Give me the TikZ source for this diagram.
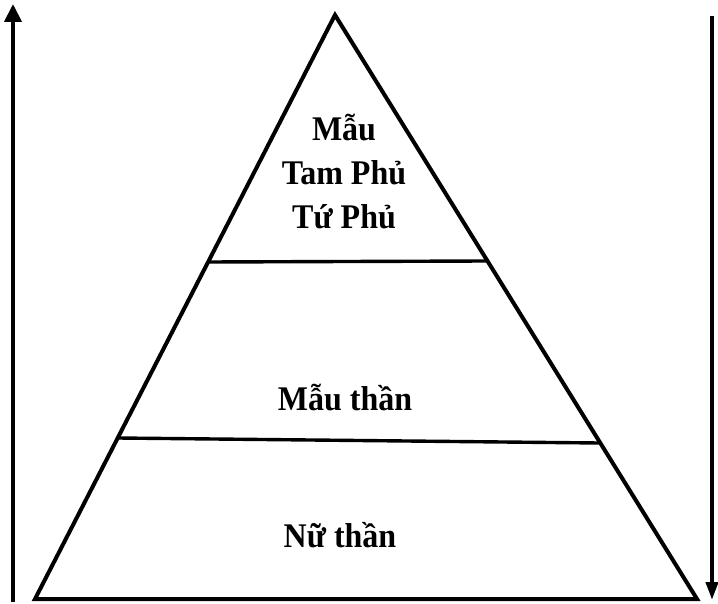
\documentclass[tikz,border=0pt]{standalone}
\usepackage{fontspec}
\setmainfont{Liberation Serif}
\usetikzlibrary{arrows.meta}
\begin{document}
\begin{tikzpicture}[x=1pt,y=-1pt,
  edge/.style={line width=4pt, line join=miter},
  divider/.style={line width=3.4pt},
  axis/.style={line width=4pt, -{Triangle[width=17pt,length=18pt]}},
  axisdown/.style={line width=4pt, -{Triangle[width=12pt,length=18pt]}},
  lbl/.style={font=\fontsize{32}{44}\selectfont\bfseries, align=center, inner sep=0pt}]
\useasboundingbox (0,0) rectangle (718,604);
\coordinate (apex) at (335,15);
\coordinate (bl) at (35,599);
\coordinate (br) at (697,599);
\coordinate (d1l) at (208,262);
\coordinate (d1r) at (486,261);
\coordinate (d2l) at (118,438);
\coordinate (d2r) at (599,443);
\draw[edge] (bl) -- (apex) -- (br) -- cycle;
\draw[divider] (d1l) -- (d1r);
\draw[divider] (d2l) -- (d2r);
\coordinate (la) at (13,602);
\coordinate (lb) at (13,4);
\coordinate (ra) at (712,16);
\coordinate (rb) at (712,600);
\draw[axis] (la) -- (lb);
\draw[axisdown] (ra) -- (rb);
\node[lbl] (top) at (344,172) {\scalebox{1}[1.08]{Mẫu}\\\scalebox{1}[1.08]{Tam Phủ}\\\scalebox{1}[1.08]{Tứ Phủ}};
\node[lbl] (mid) at (345,398) {\scalebox{1}[1.08]{Mẫu thần}};
\node[lbl] (bot) at (340,535) {\scalebox{1}[1.08]{Nữ thần}};
\end{tikzpicture}
\end{document}
